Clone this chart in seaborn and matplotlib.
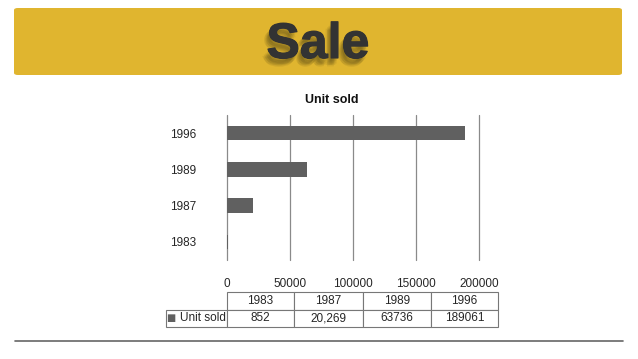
import matplotlib
matplotlib.use("Agg")
import matplotlib.pyplot as plt
import matplotlib.patheffects as pe
from matplotlib.patches import FancyBboxPatch
import seaborn as sns
import pandas as pd

years = ["1983", "1987", "1989", "1996"]
units = [852, 20269, 63736, 189061]
table_labels = ["852", "20,269", "63736", "189061"]
xticks = [0, 50000, 100000, 150000, 200000]

sns.set_style("white")
plt.rcParams["font.family"] = ["Liberation Sans", "DejaVu Sans"]

df = pd.DataFrame({"year": years, "units": units})

fig = plt.figure(figsize=(6.38, 3.59), dpi=100)
W, H = 638, 359

# yellow banner
banner = FancyBboxPatch((14 / W, 1 - 75 / H), 608 / W, 67 / H,
                        boxstyle="round,pad=0,rounding_size=0.006",
                        transform=fig.transFigure, facecolor="#E0B52F",
                        edgecolor="none", zorder=0)
fig.patches.append(banner)
shadows = [pe.SimplePatchShadow(offset=(dx, dy), shadow_rgbFace="#3a3210", alpha=0.09)
           for dx, dy in [(-1, -2), (-2, -3), (-3, -4), (-2, -5), (-4, -5), (-3, -6), (-1, -4)]]
fig.text(318 / W, 1 - 45 / H, "Sale", ha="center", va="center",
         fontsize=36, fontweight="bold", color="#333333",
         path_effects=shadows + [pe.Stroke(linewidth=0.8, foreground="#333333"), pe.Normal()])

# bottom rule
fig.add_artist(plt.Line2D([15 / W, 623 / W], [18 / H, 18 / H], color="#666666",
                          lw=1.2, transform=fig.transFigure))

ax = fig.add_axes([227 / W, 99 / H, 252 / W, 145 / H])
sns.barplot(data=df, x="units", y="year", order=years[::-1], color="#606060",
            width=0.4, saturation=1, edgecolor="none", linewidth=0, ax=ax)
ax.set_xlim(0, 200000)
ax.set_xticks(xticks)
ax.set_xticklabels([str(t) for t in xticks])
ax.set_xlabel("")
ax.set_ylabel("")
for t in xticks:
    ax.axvline(t, color="#8a8a8a", lw=0.9, zorder=0, clip_on=False)
for s in ax.spines.values():
    s.set_visible(False)
ax.tick_params(axis="x", length=0, pad=13, labelsize=8.5)
ax.tick_params(axis="y", length=0, pad=22, labelsize=8.5)

fig.text(332 / W, 1 - 100 / H, "Unit sold", ha="center", va="center",
         fontsize=9, fontweight="bold", color="#111111")

# data table below the chart
cell_text = [[""] + years, ["    Unit sold"] + table_labels]
tbl = ax.table(cellText=cell_text, cellLoc="center",
               bbox=[(166 - 227) / 252, (260 - 327) / 145, (498 - 166) / 252, 35 / 145])
tbl.auto_set_font_size(False)
tbl.set_fontsize(8.5)
col_w = [61, 67, 69, 68, 67]
for (r, c), cell in tbl.get_celld().items():
    cell.set_edgecolor("#777777")
    cell.set_linewidth(0.8)
    cell.set_width(col_w[c] / 252)
    if r == 0 and c == 0:
        cell.visible_edges = ""
tbl[1, 0].get_text().set_ha("left")
tbl[1, 0].PAD = 0.02
fig.text(171 / W, 1 - 318 / H, "■", ha="center", va="center", fontsize=7,
         color="#606060", family=["DejaVu Sans"])

fig.savefig("out.png", dpi=100)
